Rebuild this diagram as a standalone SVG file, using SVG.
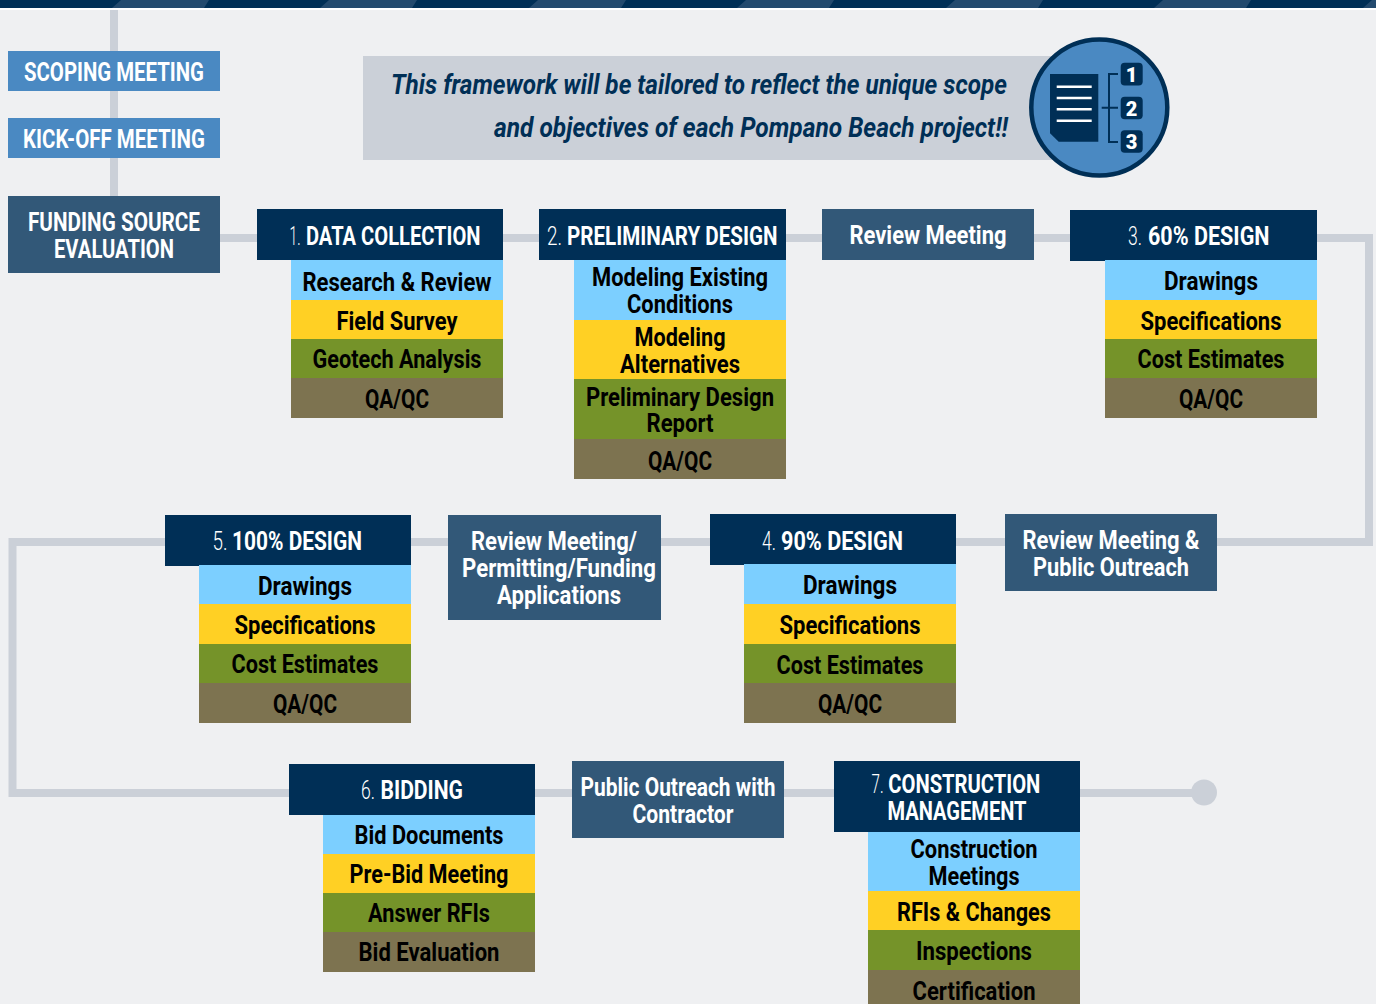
<svg xmlns="http://www.w3.org/2000/svg" width="1376" height="1004" viewBox="0 0 1376 1004">
<style>
text{font-family:Roboto,"Liberation Sans",sans-serif;font-weight:700;font-size:25px;text-anchor:middle;transform:translateY(-.5px)}
.w{fill:#fff}.k{fill:#000}
.n{font-weight:300;fill:#fff;text-anchor:start}
.h{fill:#fff;text-anchor:start}
.d{fill:#fff;font-size:20px;font-weight:900}
.q{fill:#002f56;font-style:italic;font-weight:700;font-size:27.500px}
.dk{fill:#002f56}.sl{fill:#325878}.bl{fill:#4a89c2}
.c{fill:#7ccfff}.y{fill:#ffd024}.g{fill:#759329}.b{fill:#7d7350}
.ln{fill:none;stroke:#cbd0d8;stroke-width:8}
</style>
<rect width="1376" height="1004" fill="#eff0f2"/>
<g id="topbar">
<rect width="1376" height="8" fill="#002f56"/>
<path d="M112 8L121 0H209L204 8ZM320 8L329 0H417L412 8ZM529 8L538 0H626L621 8ZM737 8L746 0H834L829 8ZM946 8L955 0H1043L1038 8ZM1154 8L1163 0H1251L1246 8ZM1363 8L1372 0H1376V8Z" fill="#234a6e"/>
<rect y="8" width="1376" height="2" fill="#fff"/>
</g>
<g id="connectors">
<path class="ln" d="M114 10V200"/>
<path class="ln" d="M220 238H1369V542H12.500V793H1204"/>
<circle cx="1204" cy="792.500" r="13" fill="#cbd0d8"/>
</g>
<g id="scoping"><rect class="bl" x="8" y="51" width="212" height="40"/><text class="w" x="114" y="81" textLength="180" lengthAdjust="spacingAndGlyphs">SCOPING MEETING</text></g>
<g id="kickoff"><rect class="bl" x="8" y="118" width="212" height="40"/><text class="w" x="114" y="148" textLength="182" lengthAdjust="spacingAndGlyphs">KICK-OFF MEETING</text></g>
<g id="funding"><rect class="sl" x="8" y="196" width="212" height="77"/><text class="w" x="114" y="231" textLength="172" lengthAdjust="spacingAndGlyphs">FUNDING SOURCE</text><text class="w" x="114" y="258" textLength="120" lengthAdjust="spacingAndGlyphs">EVALUATION</text></g>
<g id="note">
<rect x="363" y="56" width="720" height="104" fill="#cbd0d8"/>
<text class="q" x="699" y="94.500" textLength="616" lengthAdjust="spacingAndGlyphs">This framework will be tailored to reflect the unique scope</text>
<text class="q" x="751" y="137" textLength="514" lengthAdjust="spacingAndGlyphs">and objectives of each Pompano Beach project!!</text>
</g>
<g id="icon">
<circle cx="1099.300" cy="107.500" r="68" fill="#4a89c2" stroke="#002f56" stroke-width="4.500"/>
<path d="M1050 74H1098.300V141.700H1058.700L1050 133.300Z" fill="#002f56"/>
<path d="M1056.700 86.700H1091.700M1056.700 98H1091.700M1056.700 109.300H1091.700M1056.700 120.700H1091.700" stroke="#fff" stroke-width="2.500" fill="none"/>
<path d="M1118 74H1109V142H1118M1101.700 107.700H1118" stroke="#002f56" stroke-width="2" fill="none"/>
<rect x="1120.700" y="62.700" width="22" height="22.700" rx="4" fill="#002f56"/><rect x="1120.700" y="96.700" width="22" height="22.500" rx="4" fill="#002f56"/><rect x="1120.700" y="130.300" width="22" height="22.500" rx="4" fill="#002f56"/>
<text class="d" x="1131.500" y="82.500">1</text><text class="d" x="1131.500" y="116.500">2</text><text class="d" x="1131.500" y="149">3</text>
</g>
<g id="step1"><rect class="dk" x="257" y="209" width="246" height="51"/><text class="n" x="289.500" y="245" textLength="11" lengthAdjust="spacingAndGlyphs">1.</text><text class="h" x="306" y="245" textLength="174.500" lengthAdjust="spacingAndGlyphs">DATA COLLECTION</text>
<rect class="c" x="291" y="260" width="212" height="40"/><rect class="y" x="291" y="300" width="212" height="39"/><rect class="g" x="291" y="339" width="212" height="39"/><rect class="b" x="291" y="378" width="212" height="40"/>
<text class="k" x="397" y="291" textLength="189" lengthAdjust="spacingAndGlyphs">Research &amp; Review</text><text class="k" x="397" y="330" textLength="121" lengthAdjust="spacingAndGlyphs">Field Survey</text><text class="k" x="397" y="368" textLength="169" lengthAdjust="spacingAndGlyphs">Geotech Analysis</text><text class="k" x="397" y="408" textLength="64" lengthAdjust="spacingAndGlyphs">QA/QC</text></g>
<g id="step2"><rect class="dk" x="539" y="209" width="247" height="51"/><text class="n" x="547" y="245" textLength="15" lengthAdjust="spacingAndGlyphs">2.</text><text class="h" x="567" y="245" textLength="210.500" lengthAdjust="spacingAndGlyphs">PRELIMINARY DESIGN</text>
<rect class="c" x="574" y="260" width="212" height="60"/><rect class="y" x="574" y="320" width="212" height="59"/><rect class="g" x="574" y="379" width="212" height="60"/><rect class="b" x="574" y="439" width="212" height="40"/>
<text class="k" x="680" y="286.500" textLength="176" lengthAdjust="spacingAndGlyphs">Modeling Existing</text><text class="k" x="680" y="313" textLength="106" lengthAdjust="spacingAndGlyphs">Conditions</text><text class="k" x="680" y="346.500" textLength="91" lengthAdjust="spacingAndGlyphs">Modeling</text><text class="k" x="680" y="373" textLength="120" lengthAdjust="spacingAndGlyphs">Alternatives</text><text class="k" x="680" y="406.500" textLength="188" lengthAdjust="spacingAndGlyphs">Preliminary Design</text><text class="k" x="680" y="432" textLength="67" lengthAdjust="spacingAndGlyphs">Report</text><text class="k" x="680" y="470" textLength="64" lengthAdjust="spacingAndGlyphs">QA/QC</text></g>
<g id="review1"><rect class="sl" x="822" y="209" width="212" height="51"/><text class="w" x="928" y="244" textLength="157" lengthAdjust="spacingAndGlyphs">Review Meeting</text></g>
<g id="step3"><rect class="dk" x="1070" y="210" width="247" height="51"/><text class="n" x="1128" y="245.500" textLength="14" lengthAdjust="spacingAndGlyphs">3.</text><text class="h" x="1148" y="245.500" textLength="121.500" lengthAdjust="spacingAndGlyphs">60% DESIGN</text>
<rect class="c" x="1105" y="260" width="212" height="40"/><rect class="y" x="1105" y="300" width="212" height="39"/><rect class="g" x="1105" y="339" width="212" height="39"/><rect class="b" x="1105" y="378" width="212" height="40"/>
<text class="k" x="1211" y="290.500" textLength="94" lengthAdjust="spacingAndGlyphs">Drawings</text><text class="k" x="1211" y="330" textLength="141" lengthAdjust="spacingAndGlyphs">Specifications</text><text class="k" x="1211" y="368" textLength="147" lengthAdjust="spacingAndGlyphs">Cost Estimates</text><text class="k" x="1211" y="408" textLength="64" lengthAdjust="spacingAndGlyphs">QA/QC</text></g>
<g id="review2"><rect class="sl" x="1005" y="514" width="212" height="77"/><text class="w" x="1111" y="549" textLength="177" lengthAdjust="spacingAndGlyphs">Review Meeting &amp;</text><text class="w" x="1111" y="576" textLength="156" lengthAdjust="spacingAndGlyphs">Public Outreach</text></g>
<g id="step4"><rect class="dk" x="710" y="514" width="246" height="51"/><text class="n" x="762" y="550.500" textLength="14" lengthAdjust="spacingAndGlyphs">4.</text><text class="h" x="781" y="550.500" textLength="122" lengthAdjust="spacingAndGlyphs">90% DESIGN</text>
<rect class="c" x="744" y="564" width="212" height="40"/><rect class="y" x="744" y="604" width="212" height="40"/><rect class="g" x="744" y="644" width="212" height="39"/><rect class="b" x="744" y="683" width="212" height="40"/>
<text class="k" x="850" y="594.500" textLength="94" lengthAdjust="spacingAndGlyphs">Drawings</text><text class="k" x="850" y="634" textLength="141" lengthAdjust="spacingAndGlyphs">Specifications</text><text class="k" x="850" y="674" textLength="147" lengthAdjust="spacingAndGlyphs">Cost Estimates</text><text class="k" x="850" y="713.500" textLength="64" lengthAdjust="spacingAndGlyphs">QA/QC</text></g>
<g id="review3"><rect class="sl" x="448" y="515" width="213" height="105"/><text class="w" x="554" y="550" textLength="166" lengthAdjust="spacingAndGlyphs">Review Meeting/</text><text class="w" x="559" y="577" textLength="194" lengthAdjust="spacingAndGlyphs">Permitting/Funding</text><text class="w" x="559" y="604" textLength="124" lengthAdjust="spacingAndGlyphs">Applications</text></g>
<g id="step5"><rect class="dk" x="165" y="515" width="246" height="51"/><text class="n" x="212.500" y="550.500" textLength="15" lengthAdjust="spacingAndGlyphs">5.</text><text class="h" x="232" y="550.500" textLength="130" lengthAdjust="spacingAndGlyphs">100% DESIGN</text>
<rect class="c" x="199" y="565" width="212" height="39"/><rect class="y" x="199" y="604" width="212" height="40"/><rect class="g" x="199" y="644" width="212" height="39"/><rect class="b" x="199" y="683" width="212" height="40"/>
<text class="k" x="305" y="595" textLength="94" lengthAdjust="spacingAndGlyphs">Drawings</text><text class="k" x="305" y="634.500" textLength="141" lengthAdjust="spacingAndGlyphs">Specifications</text><text class="k" x="305" y="673.500" textLength="147" lengthAdjust="spacingAndGlyphs">Cost Estimates</text><text class="k" x="305" y="713.500" textLength="64" lengthAdjust="spacingAndGlyphs">QA/QC</text></g>
<g id="step6"><rect class="dk" x="289" y="764" width="246" height="51"/><text class="n" x="361" y="799.500" textLength="14" lengthAdjust="spacingAndGlyphs">6.</text><text class="h" x="380.500" y="799.500" textLength="82.500" lengthAdjust="spacingAndGlyphs">BIDDING</text>
<rect class="c" x="323" y="815" width="212" height="39"/><rect class="y" x="323" y="854" width="212" height="39"/><rect class="g" x="323" y="893" width="212" height="39"/><rect class="b" x="323" y="932" width="212" height="40"/>
<text class="k" x="429" y="844.500" textLength="149" lengthAdjust="spacingAndGlyphs">Bid Documents</text><text class="k" x="429" y="883.500" textLength="159" lengthAdjust="spacingAndGlyphs">Pre-Bid Meeting</text><text class="k" x="429" y="922.500" textLength="122" lengthAdjust="spacingAndGlyphs">Answer RFIs</text><text class="k" x="429" y="961.500" textLength="141" lengthAdjust="spacingAndGlyphs">Bid Evaluation</text></g>
<g id="outreach"><rect class="sl" x="572" y="761" width="212" height="77"/><text class="w" x="678" y="796" textLength="195" lengthAdjust="spacingAndGlyphs">Public Outreach with</text><text class="w" x="683" y="823" textLength="101" lengthAdjust="spacingAndGlyphs">Contractor</text></g>
<g id="step7"><rect class="dk" x="834" y="761" width="246" height="71"/><text class="n" x="871.500" y="793" textLength="12" lengthAdjust="spacingAndGlyphs">7.</text><text class="h" x="888.300" y="793" textLength="152" lengthAdjust="spacingAndGlyphs">CONSTRUCTION</text><text class="w" x="957" y="820" textLength="139" lengthAdjust="spacingAndGlyphs">MANAGEMENT</text>
<rect class="c" x="868" y="832" width="212" height="59"/><rect class="y" x="868" y="891" width="212" height="39"/><rect class="g" x="868" y="930" width="212" height="40"/><rect class="b" x="868" y="970" width="212" height="34"/>
<text class="k" x="974" y="858" textLength="127" lengthAdjust="spacingAndGlyphs">Construction</text><text class="k" x="974" y="885" textLength="91" lengthAdjust="spacingAndGlyphs">Meetings</text><text class="k" x="974" y="921" textLength="154" lengthAdjust="spacingAndGlyphs">RFIs &amp; Changes</text><text class="k" x="974" y="960" textLength="116" lengthAdjust="spacingAndGlyphs">Inspections</text><text class="k" x="974" y="1000" textLength="123" lengthAdjust="spacingAndGlyphs">Certification</text></g>
</svg>
